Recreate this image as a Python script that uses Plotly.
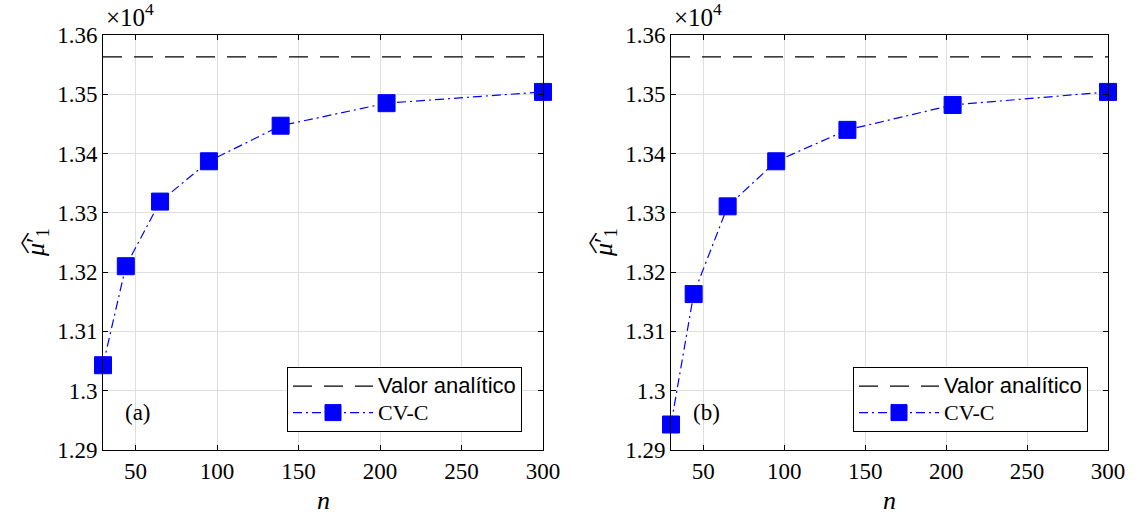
import plotly.graph_objects as go

# ---------------- data ----------------
n_values = [30, 44, 65, 95, 139, 204, 300]
cvc_a = [13043, 13210, 13319, 13387, 13447, 13485, 13504]
cvc_b = [12943, 13163, 13311, 13387, 13440, 13482, 13504]
analytic_value = 13563
x_tick_vals = [50, 100, 150, 200, 250, 300]
x_tick_labels = ["50", "100", "150", "200", "250", "300"]
y_tick_vals = [12900, 13000, 13100, 13200, 13300, 13400, 13500, 13600]
y_tick_labels = ["1.29", "1.3", "1.31", "1.32", "1.33", "1.34", "1.35", "1.36"]
panel_labels = ["(a)", "(b)"]
legend_names = ["Valor analítico", "CV-C"]

W, H = 1137, 514


def px(x):
    return x / W


def py(y):
    return (H - y) / H


SERIF = "Liberation Serif"
SANS = "Liberation Sans"
BLUE = "#0000FF"
GRID = "#dedede"

fig = go.Figure()

panels = [
    dict(vals=cvc_a, xa="x", ya="y", legend="legend", left=103, right=543, lgx=287),
    dict(vals=cvc_b, xa="x2", ya="y2", legend="legend2", left=671, right=1108, lgx=853),
]

for p in panels:
    fig.add_trace(go.Scatter(
        x=[n_values[0], n_values[-1]], y=[analytic_value, analytic_value],
        mode="lines", line=dict(color="black", width=1.2, dash="19px,12px"),
        name=f"<span style='font-family:{SANS};font-size:22px'>{legend_names[0]}</span>",
        xaxis=p["xa"], yaxis=p["ya"], legend=p["legend"], showlegend=True,
    ))
    fig.add_trace(go.Scatter(
        x=n_values, y=p["vals"], mode="lines+markers",
        line=dict(color=BLUE, width=1.2, dash="9px,4px,2px,4px"),
        marker=dict(symbol="square", size=17, color=BLUE, line=dict(color=BLUE, width=1)),
        name=f"<span style='font-family:{SERIF};font-size:22px'>{legend_names[1]}</span>",
        xaxis=p["xa"], yaxis=p["ya"], legend=p["legend"], cliponaxis=False,
    ))

axis_common = dict(
    showline=True, linecolor="black", linewidth=1, mirror="ticks",
    ticks="inside", ticklen=5, tickwidth=1, tickcolor="black",
    showgrid=True, gridcolor=GRID, gridwidth=1, zeroline=False,
    tickfont=dict(family=SERIF, size=23, color="black"),
    automargin=False,
)

ybot, ytop = 450, 35
layout = dict(
    width=W, height=H,
    margin=dict(l=0, r=0, t=0, b=0, pad=0, autoexpand=False),
    autosize=False,
    paper_bgcolor="white", plot_bgcolor="white",
    showlegend=True,
)
for i, p in enumerate(panels):
    sfx = "" if i == 0 else "2"
    layout["xaxis" + sfx] = dict(
        axis_common, domain=[px(p["left"]), px(p["right"])], range=[30, 300],
        tickvals=x_tick_vals, ticktext=x_tick_labels, anchor="y" + sfx,
    )
    layout["yaxis" + sfx] = dict(
        axis_common, domain=[py(ybot), py(ytop)], range=[12900, 13600],
        tickvals=y_tick_vals, ticktext=y_tick_labels, anchor="x" + sfx,
    )

legend_common = dict(
    xref="paper", yref="paper", xanchor="left", yanchor="top",
    bgcolor="white", bordercolor="black", borderwidth=1,
    font=dict(family=SANS, size=18, color="black"),
    itemwidth=80, tracegroupgap=0, itemsizing="trace",
)
layout["legend"] = dict(legend_common, x=px(panels[0]["lgx"]), y=py(367))
layout["legend2"] = dict(legend_common, x=px(panels[1]["lgx"]), y=py(367))

annotations = []
for i, p in enumerate(panels):
    cx = (p["left"] + p["right"]) / 2
    # x label
    annotations.append(dict(
        text="<i>n</i>", x=px(cx), y=py(500), xref="paper", yref="paper",
        showarrow=False, font=dict(family=SERIF, size=26, color="black"),
        xanchor="center", yanchor="middle",
    ))
    # y label
    annotations.append(dict(
        text="<i>μ</i>′<sub>1</sub>", x=px(p["left"] - 66), y=py(243),
        xref="paper", yref="paper", showarrow=False, textangle=-90,
        font=dict(family=SERIF, size=26, color="black"),
        xanchor="center", yanchor="middle",
    ))
    # wide hat over the y label
    annotations.append(dict(
        text="︿", x=px(p["left"] - 86), y=py(243),
        xref="paper", yref="paper", showarrow=False, textangle=-90,
        font=dict(family="Noto Sans CJK SC", size=22, color="black"),
        xanchor="center", yanchor="middle",
    ))
    # exponent
    annotations.append(dict(
        text="×10<sup>4</sup>", x=px(p["left"] + 1), y=py(33),
        xref="paper", yref="paper", showarrow=False,
        font=dict(family=SERIF, size=25, color="black"),
        xanchor="left", yanchor="bottom",
    ))
    # panel label
    annotations.append(dict(
        text=panel_labels[i], x=px(p["left"] + 35), y=py(412),
        xref="paper", yref="paper", showarrow=False,
        font=dict(family=SERIF, size=23, color="black"),
        xanchor="center", yanchor="middle",
    ))
layout["annotations"] = annotations

fig.update_layout(**layout)
fig.write_html("out.html")
